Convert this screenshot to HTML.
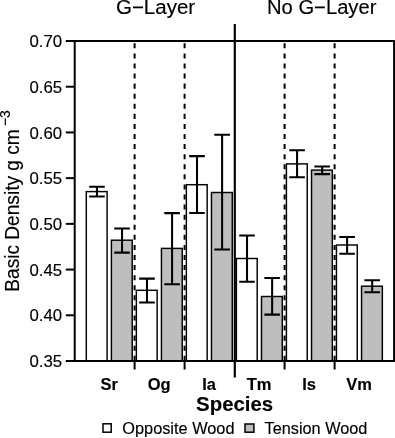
<!DOCTYPE html>
<html><head><meta charset="utf-8"><style>
html,body{margin:0;padding:0;background:#fff;}
svg{display:block;font-family:"Liberation Sans", sans-serif;will-change:transform;}
text{fill:#000;stroke:#000;stroke-width:0.15px;}
</style></head><body>
<svg width="395" height="438" viewBox="0 0 395 438">
<rect x="0" y="0" width="395" height="438" fill="#fff"/>
<line x1="134.6" y1="43.3" x2="134.6" y2="361" stroke="#000" stroke-width="2" stroke-dasharray="5.02 5.06"/>
<line x1="134.6" y1="361" x2="134.6" y2="369.5" stroke="#000" stroke-width="2"/>
<line x1="184.6" y1="43.3" x2="184.6" y2="361" stroke="#000" stroke-width="2" stroke-dasharray="5.02 5.06"/>
<line x1="184.6" y1="361" x2="184.6" y2="369.5" stroke="#000" stroke-width="2"/>
<line x1="284.6" y1="43.3" x2="284.6" y2="361" stroke="#000" stroke-width="2" stroke-dasharray="5.02 5.06"/>
<line x1="284.6" y1="361" x2="284.6" y2="369.5" stroke="#000" stroke-width="2"/>
<line x1="334.6" y1="43.3" x2="334.6" y2="361" stroke="#000" stroke-width="2" stroke-dasharray="5.02 5.06"/>
<line x1="334.6" y1="361" x2="334.6" y2="369.5" stroke="#000" stroke-width="2"/>
<rect x="86.30" y="191.60" width="20.80" height="169.40" fill="#fff" stroke="#000" stroke-width="1.45"/>
<rect x="111.40" y="240.20" width="20.80" height="120.80" fill="#bebebe" stroke="#000" stroke-width="1.45"/>
<rect x="136.33" y="290.30" width="20.80" height="70.70" fill="#fff" stroke="#000" stroke-width="1.45"/>
<rect x="161.43" y="248.40" width="20.80" height="112.60" fill="#bebebe" stroke="#000" stroke-width="1.45"/>
<rect x="186.36" y="184.70" width="20.80" height="176.30" fill="#fff" stroke="#000" stroke-width="1.45"/>
<rect x="211.46" y="192.50" width="20.80" height="168.50" fill="#bebebe" stroke="#000" stroke-width="1.45"/>
<rect x="236.39" y="258.50" width="20.80" height="102.50" fill="#fff" stroke="#000" stroke-width="1.45"/>
<rect x="261.49" y="296.50" width="20.80" height="64.50" fill="#bebebe" stroke="#000" stroke-width="1.45"/>
<rect x="286.42" y="163.90" width="20.80" height="197.10" fill="#fff" stroke="#000" stroke-width="1.45"/>
<rect x="311.52" y="170.10" width="20.80" height="190.90" fill="#bebebe" stroke="#000" stroke-width="1.45"/>
<rect x="336.45" y="245.00" width="20.80" height="116.00" fill="#fff" stroke="#000" stroke-width="1.45"/>
<rect x="361.55" y="286.20" width="20.80" height="74.80" fill="#bebebe" stroke="#000" stroke-width="1.45"/>
<path d="M96.95 186.70V196.50M89.15 186.70H104.75M89.15 196.50H104.75" stroke="#000" stroke-width="2.05" fill="none"/>
<path d="M122.05 228.40V252.60M114.25 228.40H129.85M114.25 252.60H129.85" stroke="#000" stroke-width="2.05" fill="none"/>
<path d="M146.98 278.60V302.40M139.18 278.60H154.78M139.18 302.40H154.78" stroke="#000" stroke-width="2.05" fill="none"/>
<path d="M172.08 213.10V284.20M164.28 213.10H179.88M164.28 284.20H179.88" stroke="#000" stroke-width="2.05" fill="none"/>
<path d="M197.01 156.10V212.90M189.21 156.10H204.81M189.21 212.90H204.81" stroke="#000" stroke-width="2.05" fill="none"/>
<path d="M222.11 134.70V249.50M214.31 134.70H229.91M214.31 249.50H229.91" stroke="#000" stroke-width="2.05" fill="none"/>
<path d="M247.04 235.40V281.70M239.24 235.40H254.84M239.24 281.70H254.84" stroke="#000" stroke-width="2.05" fill="none"/>
<path d="M272.14 278.00V314.60M264.34 278.00H279.94M264.34 314.60H279.94" stroke="#000" stroke-width="2.05" fill="none"/>
<path d="M297.07 150.30V177.20M289.27 150.30H304.87M289.27 177.20H304.87" stroke="#000" stroke-width="2.05" fill="none"/>
<path d="M322.17 166.40V174.10M314.37 166.40H329.97M314.37 174.10H329.97" stroke="#000" stroke-width="2.05" fill="none"/>
<path d="M347.10 236.90V253.80M339.30 236.90H354.90M339.30 253.80H354.90" stroke="#000" stroke-width="2.05" fill="none"/>
<path d="M372.20 280.30V292.30M364.40 280.30H380.00M364.40 292.30H380.00" stroke="#000" stroke-width="2.05" fill="none"/>
<line x1="234.8" y1="24" x2="234.8" y2="377.6" stroke="#000" stroke-width="2.2"/>
<rect x="74.7" y="41" width="319.4" height="320" fill="none" stroke="#000" stroke-width="2"/>
<line x1="65.8" y1="41.00" x2="74.7" y2="41.00" stroke="#000" stroke-width="2"/>
<text transform="translate(45.75 46.60) scale(1.05 1)" font-size="16" text-anchor="middle">0.70</text>
<line x1="65.8" y1="86.71" x2="74.7" y2="86.71" stroke="#000" stroke-width="2"/>
<text transform="translate(45.75 93.37) scale(1.05 1)" font-size="16" text-anchor="middle">0.65</text>
<line x1="65.8" y1="132.43" x2="74.7" y2="132.43" stroke="#000" stroke-width="2"/>
<text transform="translate(45.75 139.14) scale(1.05 1)" font-size="16" text-anchor="middle">0.60</text>
<line x1="65.8" y1="178.14" x2="74.7" y2="178.14" stroke="#000" stroke-width="2"/>
<text transform="translate(45.75 183.91) scale(1.05 1)" font-size="16" text-anchor="middle">0.55</text>
<line x1="65.8" y1="223.86" x2="74.7" y2="223.86" stroke="#000" stroke-width="2"/>
<text transform="translate(45.75 229.69) scale(1.05 1)" font-size="16" text-anchor="middle">0.50</text>
<line x1="65.8" y1="269.57" x2="74.7" y2="269.57" stroke="#000" stroke-width="2"/>
<text transform="translate(45.75 276.46) scale(1.05 1)" font-size="16" text-anchor="middle">0.45</text>
<line x1="65.8" y1="315.29" x2="74.7" y2="315.29" stroke="#000" stroke-width="2"/>
<text transform="translate(45.75 321.23) scale(1.05 1)" font-size="16" text-anchor="middle">0.40</text>
<line x1="65.8" y1="361.00" x2="74.7" y2="361.00" stroke="#000" stroke-width="2"/>
<text transform="translate(45.75 367.00) scale(1.05 1)" font-size="16" text-anchor="middle">0.35</text>
<text transform="translate(155.55 14.2) scale(1.026 1)" font-size="20" text-anchor="middle">G−Layer</text>
<text transform="translate(321.7 14.1) scale(1.01 1)" font-size="20" text-anchor="middle">No G−Layer</text>
<text transform="translate(109.1 390.4) scale(1.03 1)" font-size="16" font-weight="bold" text-anchor="middle">Sr</text>
<text transform="translate(159.1 390.4) scale(1.03 1)" font-size="16" font-weight="bold" text-anchor="middle">Og</text>
<text transform="translate(209.1 390.4) scale(1.03 1)" font-size="16" font-weight="bold" text-anchor="middle">Ia</text>
<text transform="translate(259.1 390.4) scale(1.03 1)" font-size="16" font-weight="bold" text-anchor="middle">Tm</text>
<text transform="translate(309.1 390.4) scale(1.03 1)" font-size="16" font-weight="bold" text-anchor="middle">Is</text>
<text transform="translate(359.1 390.4) scale(1.03 1)" font-size="16" font-weight="bold" text-anchor="middle">Vm</text>
<text transform="translate(234.65 410.6) scale(1.02 1)" font-size="20" font-weight="bold" text-anchor="middle">Species</text>
<text transform="translate(18.8 291.7) rotate(-90) scale(0.956 1)" font-size="20">Basic Density g cm<tspan dx="3.35" dy="-9" font-size="14.6">−3</tspan></text>
<rect x="103.0" y="423.8" width="8.2" height="8.4" fill="#fff" stroke="#000" stroke-width="1.5"/>
<text transform="translate(122.3 433.8) scale(1.02 1)" font-size="16">Opposite Wood</text>
<rect x="245.0" y="424.0" width="8.9" height="8.2" fill="#bebebe" stroke="#000" stroke-width="1.5"/>
<text transform="translate(264.6 433.9) scale(1.018 1)" font-size="16">Tension Wood</text>
</svg>
</body></html>
